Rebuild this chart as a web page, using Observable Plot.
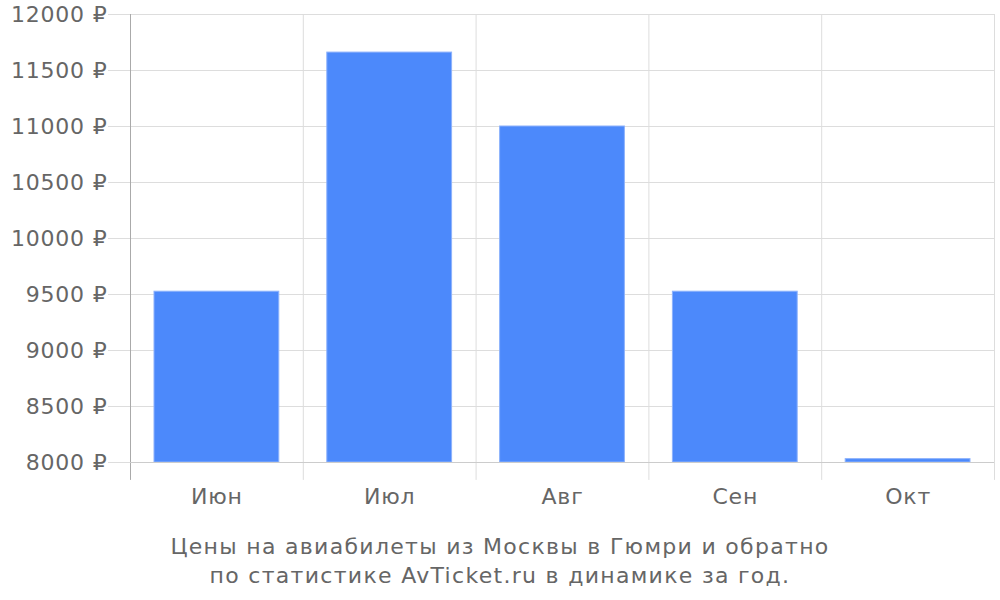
<!DOCTYPE html>
<html>
<head>
<meta charset="utf-8">
<script src="https://cdn.jsdelivr.net/npm/d3@7"></script>
<script src="https://cdn.jsdelivr.net/npm/@observablehq/plot@0.6"></script>
<style>
  body { margin: 0; background: #fff; font-family: "DejaVu Sans", sans-serif; }
  #chart svg { display: block; }
  #caption { text-align: center; color: #666; font-size: 22px; letter-spacing: 1.3px; line-height: 29px; margin-top: 17px; font-family: "DejaVu Sans", sans-serif; }
</style>
</head>
<body>
<div id="chart"></div>
<div id="caption">Цены на авиабилеты из Москвы в Гюмри и обратно<br>по статистике AvTicket.ru в динамике за год.</div>
<script>
const months = ["Июн", "Июл", "Авг", "Сен", "Окт"];
const prices = [9525, 11660, 11000, 9525, 8030];
const yTicks = [8000, 8500, 9000, 9500, 10000, 10500, 11000, 11500, 12000];
const yMin = 8000, yMax = 12000, yBelow = 7840;

const data = months.map((m, i) => ({month: m, value: prices[i]}));

const W = 1000, mL = 130, mR = 6;
const bw = (W - mL - mR) / months.length;

const plot = Plot.plot({
  width: W,
  height: 515,
  marginLeft: mL,
  marginRight: mR,
  marginTop: 14,
  marginBottom: 53,
  style: {fontFamily: "DejaVu Sans, sans-serif", fontSize: "22px", background: "#fff"},
  x: {domain: months, padding: 0, round: false, label: null},
  y: {domain: [yMin, yMax], label: null},
  marks: [
    Plot.gridY(yTicks, {stroke: "#ddd", strokeOpacity: 1}),
    Plot.ruleX(months, {x: d => d, dx: -bw / 2, y1: yBelow, y2: yMax, stroke: (d, i) => i === 0 ? "#aaa" : "#ddd"}),
    Plot.ruleX(months.slice(-1), {x: d => d, dx: bw / 2, y1: yBelow, y2: yMax, stroke: "#ddd"}),
    Plot.barY(data, {x: "month", y1: yMin, y2: "value", fill: "#4c89fb", stroke: "#8db2fc", strokeWidth: 1, insetLeft: 24, insetRight: 24}),
    Plot.ruleY([yMin], {stroke: "#ccc"}),
    Plot.axisY(yTicks, {tickSize: 22, tickPadding: 1, stroke: "#ddd", fill: "#666", tickFormat: d => d + " ₽", fontSize: 22}),
    Plot.axisX({tickSize: 0, tickPadding: 26, fill: "#666", fontSize: 22})
  ]
});
plot.querySelectorAll("[aria-label='y-axis tick label'] text, [aria-label='x-axis tick label'] text").forEach(e => e.setAttribute("letter-spacing", "0.8"));
document.getElementById("chart").appendChild(plot);
</script>
</body>
</html>
